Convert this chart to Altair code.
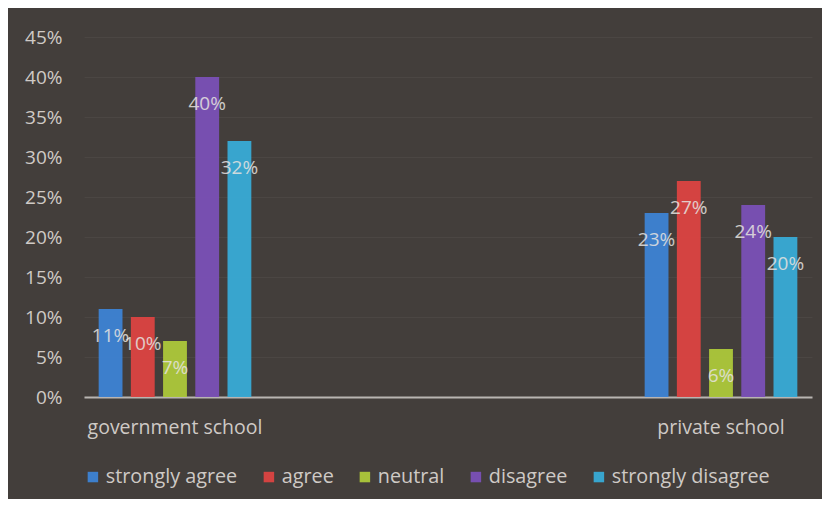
import altair as alt
import pandas as pd

# ---- data ----
schools = ["government school", "private school"]
responses = ["strongly agree", "agree", "neutral", "disagree", "strongly disagree"]
government = [11, 10, 7, 40, 32]
private = [23, 27, 6, 24, 20]
colors = ["#3d83d4", "#dc4341", "#adc83a", "#7a50b6", "#38abd6"]
x_domain = ["government school", " ", "  ", "private school"]
y_ticks = [0, 0.05, 0.10, 0.15, 0.20, 0.25, 0.30, 0.35, 0.40, 0.45]

rows = []
for s, vals in zip(schools, [government, private]):
    for r, v in zip(responses, vals):
        rows.append({"school": s, "response": r, "value": v / 100, "label": f"{v}%"})
df = pd.DataFrame(rows)

FONT = "Open Sans"
TXT = "#cfcac6"

x = alt.X(
    "school:N",
    scale=alt.Scale(domain=x_domain, paddingInner=0, paddingOuter=0),
    axis=alt.Axis(
        title=None, labelAngle=0, ticks=False, grid=False,
        domainColor="#b9b5b2", domainWidth=2,
        labelPadding=21, labelFontSize=19.5, labelColor=TXT, labelFont=FONT,
    ),
)
xo = alt.XOffset(
    "response:N", sort=responses,
    scale=alt.Scale(domain=responses, paddingInner=0.26, paddingOuter=0.455),
)
y = alt.Y(
    "value:Q",
    scale=alt.Scale(domain=[0, 0.45], nice=False),
    axis=alt.Axis(
        title=None, format=".0%", values=y_ticks, ticks=False, domain=False,
        labelPadding=22, labelFontSize=19, labelColor=TXT, labelFont=FONT,
        grid=True, gridColor="#ffffff", gridOpacity=0.045,
    ),
)
color = alt.Color(
    "response:N", sort=responses,
    scale=alt.Scale(domain=responses, range=colors),
    legend=alt.Legend(
        orient="none", legendX=-1, legendY=430, direction="horizontal",
        title=None, symbolType="square", symbolSize=110, symbolStrokeWidth=0,
        labelFontSize=19.8, labelColor=TXT, labelFont=FONT,
        columnPadding=21, labelOffset=3,
    ),
)

bars = alt.Chart(df).mark_bar(opacity=0.95).encode(x=x, xOffset=xo, y=y, color=color)

labels = alt.Chart(df).mark_text(
    dy=27, fontSize=19, font=FONT, color="#e6e3e0", opacity=0.85, baseline="middle"
).encode(x=x, xOffset=xo, y=y, text="label:N")

chart = (
    alt.layer(bars, labels)
    .properties(
        width=728, height=360,
        autosize=alt.AutoSizeParams(type="none"),
        padding={"left": 76, "top": 29, "right": 10, "bottom": 102},
        background="#433e3b",
    )
    .configure_view(stroke=None)
)

chart.save("out.html", embed_options={"renderer": "svg", "actions": False})
